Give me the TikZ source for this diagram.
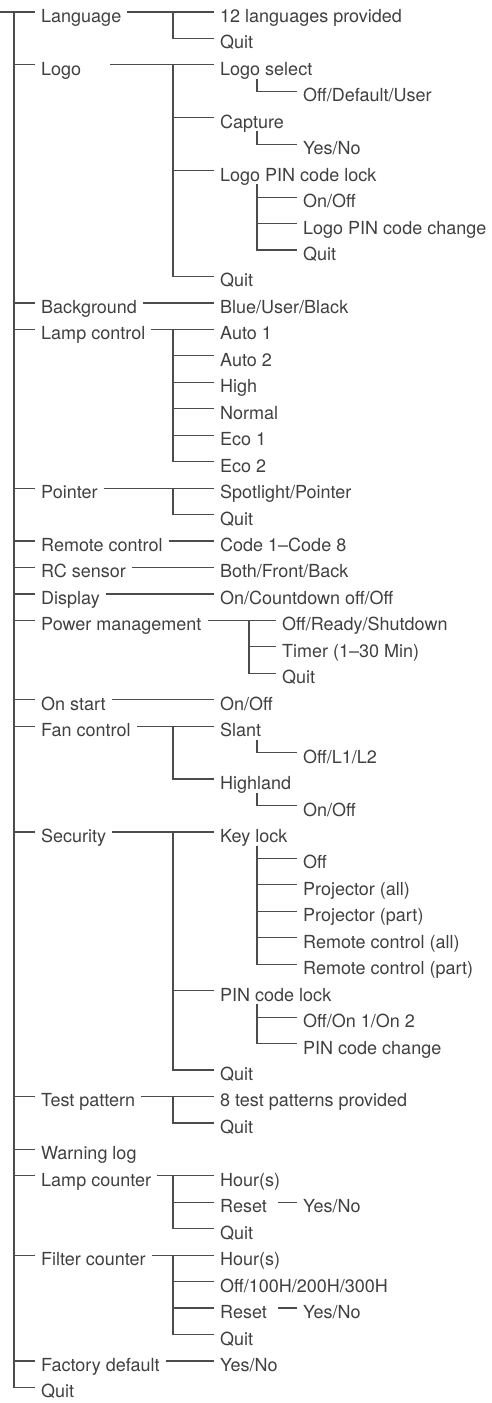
\documentclass[tikz,border=0pt]{standalone}
\usepackage{fontspec}
\setmainfont{TeX Gyre Heros}

\begin{document}
\begin{tikzpicture}[
  x=1pt, y=-26.45pt,
  every node/.style={anchor=west, inner xsep=6pt, inner ysep=0pt, text height=24pt, text depth=3pt, font=\fontsize{18}{20}\selectfont, text=black!75},
  link/.style={draw=black!70, line width=1.2pt}
]
\useasboundingbox (0,-0.4537) rectangle (492,52.59);
\coordinate (root) at (0,0);
% first level
\node (lang) at (35,0) {Language};
\node (logo) at (35,2) {Logo};
\node (bg) at (35,11) {Background};
\node (lamp) at (35,12) {Lamp control};
\node (pointer) at (35,18) {Pointer};
\node (remote) at (35,20) {Remote control};
\node (rcs) at (35,21) {RC sensor};
\node (disp) at (35,22) {Display};
\node (power) at (35,23) {Power management};
\node (onstart) at (35,26) {On start};
\node (fan) at (35,27) {Fan control};
\node (sec) at (35,31) {Security};
\node (test) at (35,41) {Test pattern};
\node (warn) at (35,43) {Warning log};
\node (lampcnt) at (35,44) {Lamp counter};
\node (filter) at (35,47) {Filter counter};
\node (factory) at (35,51) {Factory default};
\node (quit) at (35,52) {Quit};
% second level
\node (langall) at (214,0) {12 languages provided};
\node (langquit) at (214,1) {Quit};
\node (logosel) at (214,2) {Logo select};
\node (capture) at (214,4) {Capture};
\node (logopin) at (214,6) {Logo PIN code lock};
\node (logoquit) at (214,10) {Quit};
\node (bgval) at (214,11) {Blue/User/Black};
\node (auto1) at (214,12) {Auto 1};
\node (auto2) at (214,13) {Auto 2};
\node (high) at (214,14) {High};
\node (normal) at (214,15) {Normal};
\node (eco1) at (214,16) {Eco 1};
\node (eco2) at (214,17) {Eco 2};
\node (spot) at (214,18) {Spotlight/Pointer};
\node (ptrquit) at (214,19) {Quit};
\node (code) at (214,20) {Code 1–Code 8};
\node (rcsval) at (214,21) {Both/Front/Back};
\node (dispval) at (214,22) {On/Countdown off/Off};
\node (pwrval) at (276,23) {Off/Ready/Shutdown};
\node (timer) at (276,24) {Timer (1–30 Min)};
\node (pwrquit) at (276,25) {Quit};
\node (onval) at (214,26) {On/Off};
\node (slant) at (214,27) {Slant};
\node (highland) at (214,29) {Highland};
\node (keylock) at (214,31) {Key lock};
\node (pinlock) at (214,37) {PIN code lock};
\node (secquit) at (214,40) {Quit};
\node (patterns) at (214,41) {8 test patterns provided};
\node (testquit) at (214,42) {Quit};
\node (lchour) at (214,44) {Hour(s)};
\node (lcreset) at (214,45) {Reset};
\node (lcquit) at (214,46) {Quit};
\node (fchour) at (214,47) {Hour(s)};
\node (fcoff) at (214,48) {Off/100H/200H/300H};
\node (fcreset) at (214,49) {Reset};
\node (fcquit) at (214,50) {Quit};
\node (facval) at (214,51) {Yes/No};
% third level
\node (seloff) at (297,3) {Off/Default/User};
\node (capyn) at (297,5) {Yes/No};
\node (pinonoff) at (297,7) {On/Off};
\node (pinchange) at (297,8) {Logo PIN code change};
\node (pinquit) at (297,9) {Quit};
\node (slantval) at (297,28) {Off/L1/L2};
\node (highval) at (297,30) {On/Off};
\node (kloff) at (297,32) {Off};
\node (projall) at (297,33) {Projector (all)};
\node (projpart) at (297,34) {Projector (part)};
\node (rcall) at (297,35) {Remote control (all)};
\node (rcpart) at (297,36) {Remote control (part)};
\node (pinval) at (297,38) {Off/On 1/On 2};
\node (pinchg) at (297,39) {PIN code change};
\node (lcyn) at (297,45) {Yes/No};
\node (fcyn) at (297,49) {Yes/No};
% connectors
\draw[link] (root) -- (lang.west);
\foreach \n in {logo,bg,lamp,pointer,remote,rcs,disp,power,onstart,fan,sec,test,warn,lampcnt,filter,factory,quit}
  \draw[link] ([xshift=-21pt]lang.west) |- (\n.west);
\draw[link] ([xshift=23pt]logo.east) -- (logosel.west);
\foreach \a/\b in {lang/langall,bg/bgval,lamp/auto1,pointer/spot,remote/code,rcs/rcsval,disp/dispval,power/pwrval,onstart/onval,fan/slant,sec/keylock,test/patterns,lampcnt/lchour,filter/fchour,factory/facval}
  \draw[link] (\a.east) -- (\b.west);
\foreach \a/\b in {langall/langquit,logosel/capture,logosel/logopin,logosel/logoquit,auto1/auto2,auto1/high,auto1/normal,auto1/eco1,auto1/eco2,spot/ptrquit,slant/highland,keylock/pinlock,keylock/secquit,patterns/testquit,lchour/lcreset,lchour/lcquit,fchour/fcoff,fchour/fcreset,fchour/fcquit}
  \draw[link] ([xshift=-41pt]\a.west) |- (\b.west);
\foreach \b in {timer,pwrquit}
  \draw[link] ([xshift=-27pt]pwrval.west) |- (\b.west);
\foreach \a/\b in {logosel/seloff,capture/capyn,logopin/pinonoff,logopin/pinchange,logopin/pinquit,slant/slantval,highland/highval,keylock/kloff,keylock/projall,keylock/projpart,keylock/rcall,keylock/rcpart,pinlock/pinval,pinlock/pinchg}
  \draw[link] ([xshift=43pt]\a.south west) |- (\b.west);
\draw[link] ([xshift=5pt]lcreset.east) -- (lcyn.west);
\draw[link] ([xshift=5pt]fcreset.east) -- (fcyn.west);
\end{tikzpicture}
\end{document}
